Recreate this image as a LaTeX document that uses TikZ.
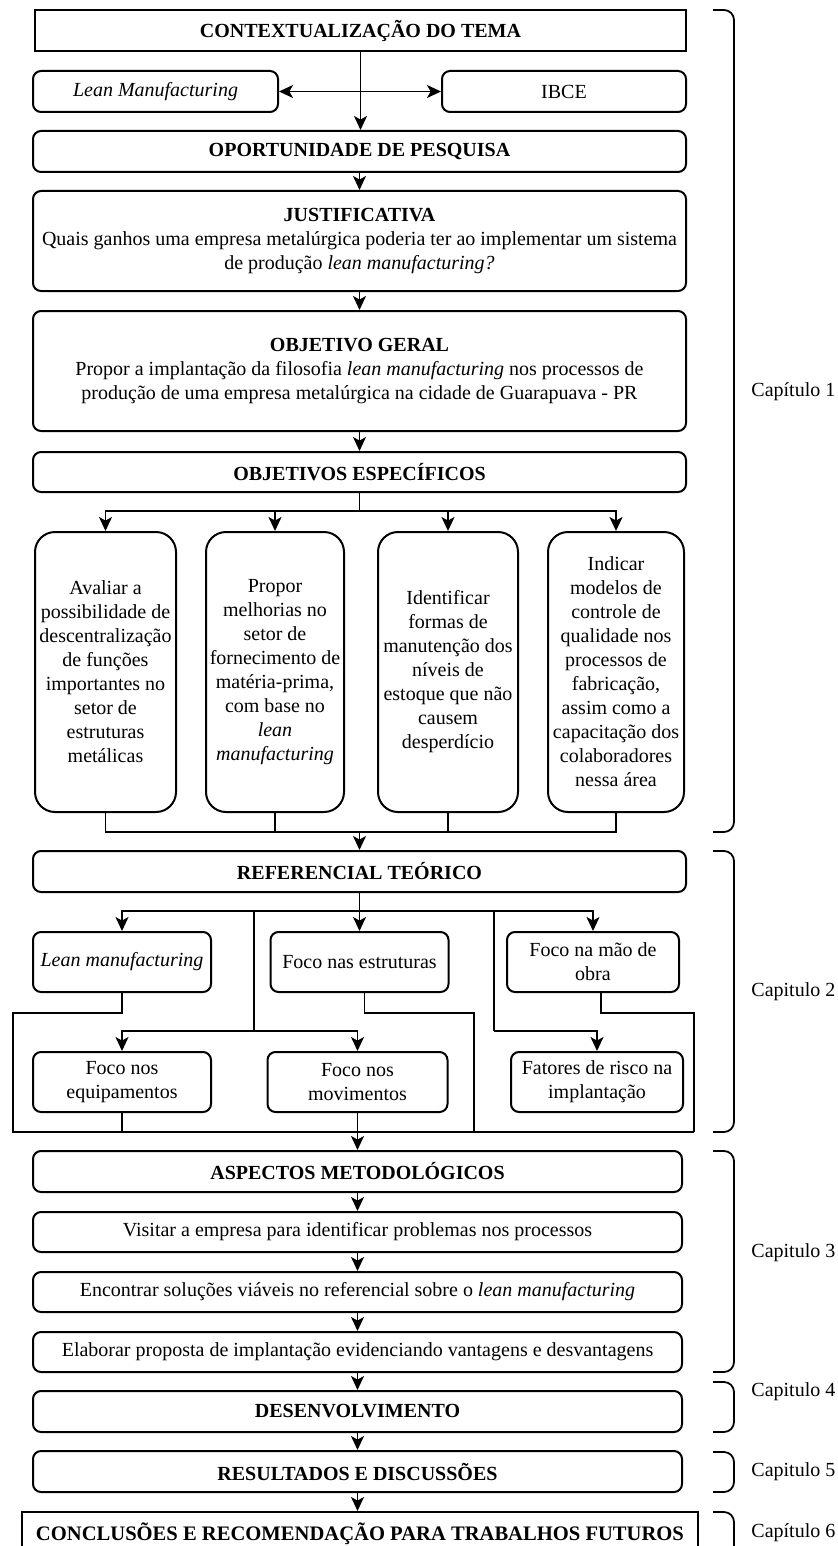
\documentclass[tikz,border=0pt]{standalone}
\usepackage{fontspec}
\setmainfont{Liberation Serif}
\usetikzlibrary{arrows.meta}
\begin{document}
\begin{tikzpicture}[x=0.5pt,y=-0.5pt,
  every node/.style={font=\fontsize{10}{12}\selectfont, inner sep=0pt, align=center},
  box/.style={draw, line width=1pt, rounded corners=4pt},
  sbox/.style={draw, line width=1pt},
  obox/.style={draw, line width=1pt, rounded corners=10pt, minimum height=140pt},
  link/.style={line width=0.9pt},
  tip/.tip={Stealth[length=7pt,width=6.5pt,inset=1.8pt]},
  arr/.style={link, -tip},
  darr/.style={link, tip-tip},
  chap/.style={line width=0.9pt, rounded corners=5pt},
  chaplabel/.style={anchor=west}]

\clip (0,0) rectangle (837,1546);
\fill[white] (0,0) rectangle (837,1546);

% ---------- Chapter 1 ----------
\node[sbox, minimum width=325.5pt, minimum height=20.5pt] (ctx) at (360.5,30.5) {\textbf{CONTEXTUALIZAÇÃO DO TEMA}};
\node[box, minimum width=122.5pt, minimum height=20.5pt] (lean) at (155.5,91.5) {\textit{Lean Manufacturing}};
\node[box, minimum width=122pt, minimum height=20.5pt] (ibce) at (564,91.5) {IBCE};
\node[box, minimum width=326.5pt, minimum height=20.5pt] (oport) at (359.5,151.5) {\textbf{OPORTUNIDADE DE PESQUISA}};
\node[box, minimum width=326.5pt, minimum height=50pt] (just) at (359.5,241)
  {\textbf{JUSTIFICATIVA}\\ Quais ganhos uma empresa metalúrgica poderia ter ao implementar um sistema\\ de produção \textit{lean manufacturing?}};
\node[box, minimum width=326.5pt, minimum height=60pt] (og) at (359.5,371)
  {\textbf{OBJETIVO GERAL}\\ Propor a implantação da filosofia \textit{lean manufacturing} nos processos de\\ produção de uma empresa metalúrgica na cidade de Guarapuava - PR};
\node[box, minimum width=326.5pt, minimum height=20pt] (oe) at (359.5,472) {\textbf{OBJETIVOS ESPECÍFICOS}};

\node[obox, minimum width=70.5pt] (o1) at (105.5,672)
  {Avaliar a\\ possibilidade de\\ descentralização\\ de funções\\ importantes no\\ setor de\\ estruturas\\ metálicas};
\node[obox, minimum width=69pt] (o2) at (275,672)
  {Propor\\ melhorias no\\ setor de\\ fornecimento de\\ matéria-prima,\\ com base no\\ \textit{lean}\\ \textit{manufacturing}};
\node[obox, minimum width=70pt] (o3) at (448,672)
  {Identificar\\ formas de\\ manutenção dos\\ níveis de\\ estoque que não\\ causem\\ desperdício};
\node[obox, minimum width=68pt] (o4) at (616,672)
  {Indicar\\ modelos de\\ controle de\\ qualidade nos\\ processos de\\ fabricação,\\ assim como a\\ capacitação dos\\ colaboradores\\ nessa área};

\draw[arr] (ctx.south) -- (ctx.south |- oport.north);
\draw[darr] (lean.east) -- (ibce.west);
\draw[arr] (oport.south) -- (just.north);
\draw[arr] (just.south) -- (og.north);
\draw[arr] (og.south) -- (oe.north);
\coordinate (ob) at (359.5,511);
\draw[link] (oe.south) -- (ob);
\draw[arr] (ob) -| (o1.north);
\draw[arr] (ob) -| (o2.north);
\draw[arr] (ob) -| (o3.north);
\draw[arr] (ob) -| (o4.north);

\coordinate (om) at (359.5,832);
\draw[link] (o1.south) |- (om);
\draw[link] (o4.south) |- (om);
\draw[link] (o2.south) -- (o2.south |- om);
\draw[link] (o3.south) -- (o3.south |- om);

% ---------- Chapter 2 ----------
\node[box, minimum width=326.5pt, minimum height=20.5pt] (ref) at (359.5,871.5) {\textbf{REFERENCIAL TEÓRICO}};
\draw[arr] (om) -- (ref.north);

\node[box, minimum width=89pt, minimum height=30pt] (r1) at (122,962) {\textit{Lean manufacturing}};
\node[box, minimum width=89pt, minimum height=30pt] (r2) at (359.5,962) {Foco nas estruturas};
\node[box, minimum width=86pt, minimum height=30pt] (r3) at (593,962) {Foco na mão de\\ obra};
\node[box, minimum width=89pt, minimum height=30pt] (r4) at (122,1082) {Foco nos\\ equipamentos};
\node[box, minimum width=90pt, minimum height=30pt] (r5) at (357.5,1082) {Foco nos\\ movimentos};
\node[box, minimum width=86pt, minimum height=30pt] (r6) at (597,1082) {Fatores de risco na\\ implantação};

\coordinate (rb) at (359.5,911);
\draw[link] (ref.south) -- (rb);
\draw[arr] (rb) -| (r1.north);
\draw[arr] (rb) -- (r2.north);
\draw[arr] (rb) -| (r3.north);

\coordinate (ja) at (254,911);
\coordinate (jb) at (254,1031);
\draw[link] (ja) -- (jb);
\draw[arr] (jb) -| (r4.north);
\draw[arr] (jb) -| (r5.north);
\coordinate (ka) at (494,911);
\coordinate (kb) at (494,1031);
\draw[link] (ka) -- (kb);
\draw[arr] (kb) -| (r6.north);

\coordinate (bl) at (13,1132);
\coordinate (bc) at (474,1132);
\coordinate (br) at (694,1132);
\draw[link] (r1.south) -- ++(0,20) -| (bl) -- (br);
\draw[link] ([xshift=2.5pt]r2.south) -- ++(0,20) -| (bc);
\draw[link] ([xshift=4pt]r3.south) -- ++(0,20) -| (br);
\draw[link] (r4.south) -- (r4.south |- bl);

% ---------- Chapter 3 ----------
\node[box, minimum width=324.5pt, minimum height=20.5pt] (asp) at (357.5,1171.5) {\textbf{ASPECTOS METODOLÓGICOS}};
\node[box, minimum width=324.5pt, minimum height=20pt] (vis) at (357.5,1232) {Visitar a empresa para identificar problemas nos processos};
\node[box, minimum width=324.5pt, minimum height=20pt] (enc) at (357.5,1292) {Encontrar soluções viáveis no referencial sobre o \textit{lean manufacturing}};
\node[box, minimum width=324.5pt, minimum height=20pt] (ela) at (357.5,1352) {Elaborar proposta de implantação evidenciando vantagens e desvantagens};
\draw[arr] (r5.south) -- (asp.north);
\draw[arr] (asp.south) -- (vis.north);
\draw[arr] (vis.south) -- (enc.north);
\draw[arr] (enc.south) -- (ela.north);

% ---------- Chapters 4 to 6 ----------
\node[box, minimum width=324.5pt, minimum height=20.5pt] (des) at (357.5,1411.5) {\textbf{DESENVOLVIMENTO}};
\node[box, minimum width=324.5pt, minimum height=20.5pt] (res) at (357.5,1471.5) {\textbf{RESULTADOS E DISCUSSÕES}};
\node[sbox, minimum width=338pt, minimum height=22pt, font=\fontsize{10.3}{12}\selectfont] (con) at (360,1534) {\textbf{CONCLUSÕES E RECOMENDAÇÃO PARA TRABALHOS FUTUROS}};
\draw[arr] (ela.south) -- (des.north);
\draw[arr] (des.south) -- (res.north);
\draw[arr] (res.south) -- (res.south |- con.north);

% ---------- chapter brackets ----------
\draw[chap] (713,10) -- (734,10) -- (734,832) -- (713,832);
\node[chaplabel] (c1) at (751,392) {Capítulo 1};
\draw[chap] (713,851) -- (734,851) -- (734,1132) -- (713,1132);
\node[chaplabel] (c2) at (751,992) {Capitulo 2};
\draw[chap] (713,1151) -- (734,1151) -- (734,1372) -- (713,1372);
\node[chaplabel] (c3) at (751,1253) {Capitulo 3};
\draw[chap] (713,1382) -- (734,1382) -- (734,1432) -- (713,1432);
\node[chaplabel] (c4) at (751,1392) {Capitulo 4};
\draw[chap] (713,1452) -- (734,1452) -- (734,1492) -- (713,1492);
\node[chaplabel] (c5) at (751,1472) {Capitulo 5};
\draw[chap] (713,1512) -- (734,1512) -- (734,1570) -- (713,1570);
\node[chaplabel] (c6) at (751,1533) {Capítulo 6};
\end{tikzpicture}
\end{document}
